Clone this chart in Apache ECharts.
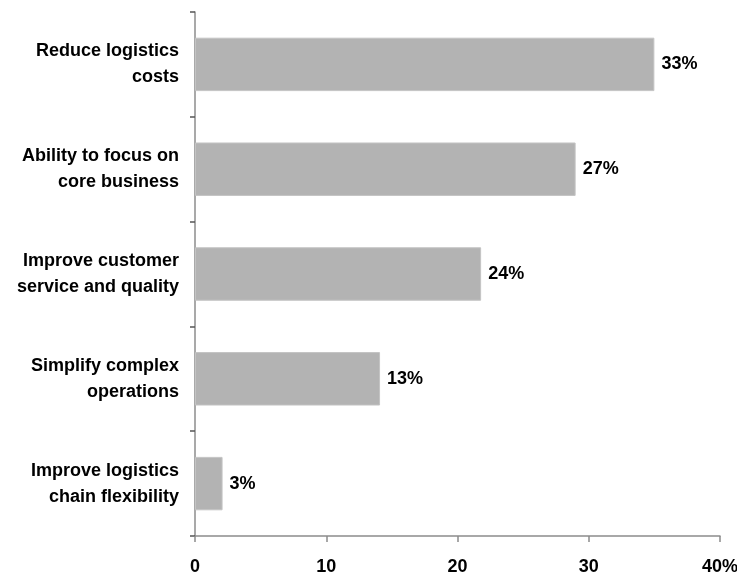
<!DOCTYPE html>
<html><head><meta charset="utf-8">
<script src="https://cdn.jsdelivr.net/npm/echarts@6/dist/echarts.min.js"></script>
<style>html,body{margin:0;padding:0;background:#fff}#c{width:737px;height:577px}</style>
</head><body><div id="c"></div>
<script>
const categories = ["Reduce logistics\ncosts", "Ability to focus on\ncore business", "Improve customer\nservice and quality", "Simplify complex\noperations", "Improve logistics\nchain flexibility"];
const barValues = [35.0, 29.0, 21.8, 14.1, 2.1];
const barLabels = ["33%", "27%", "24%", "13%", "3%"];
const xTicks = [0, 10, 20, 30, 40];
const xTickLabels = ["0", "10", "20", "30", "40%"];

const font = '"Liberation Sans", Arial, sans-serif';
const chart = echarts.init(document.getElementById('c'), null, {renderer: 'canvas'});
chart.setOption({
  animation: false,
  grid: {left: 195, right: 17, top: 12, bottom: 41, containLabel: false, outerBoundsMode: 'none'},
  xAxis: {
    type: 'value', min: 0, max: 40, interval: 10,
    axisLine: {show: true, lineStyle: {color: '#8c8c8c', width: 1.5}},
    axisTick: {show: true, length: 6, lineStyle: {color: '#8c8c8c', width: 1.5}},
    splitLine: {show: false},
    axisLabel: {
      margin: 22, color: '#000', fontFamily: font, fontWeight: 'bold', fontSize: 18,
      formatter: v => xTickLabels[xTicks.indexOf(v)]
    }
  },
  yAxis: {
    type: 'category', data: categories, inverse: true,
    axisLine: {show: true, lineStyle: {color: '#8c8c8c', width: 1.5}},
    axisTick: {show: true, length: 5, lineStyle: {color: '#555', width: 1.5}},
    axisLabel: {
      margin: 16, color: '#000', fontFamily: font, fontWeight: 'bold', fontSize: 18,
      lineHeight: 26, align: 'right'
    }
  },
  series: [{
    type: 'bar', data: barValues, barWidth: '51%',
    itemStyle: {color: '#b3b3b3', borderColor: '#c4c4c4', borderWidth: 1},
    label: {
      show: true, position: 'right', distance: 7, color: '#000',
      fontFamily: font, fontWeight: 'bold', fontSize: 18,
      formatter: p => barLabels[p.dataIndex]
    }
  }]
});
</script></body></html>
